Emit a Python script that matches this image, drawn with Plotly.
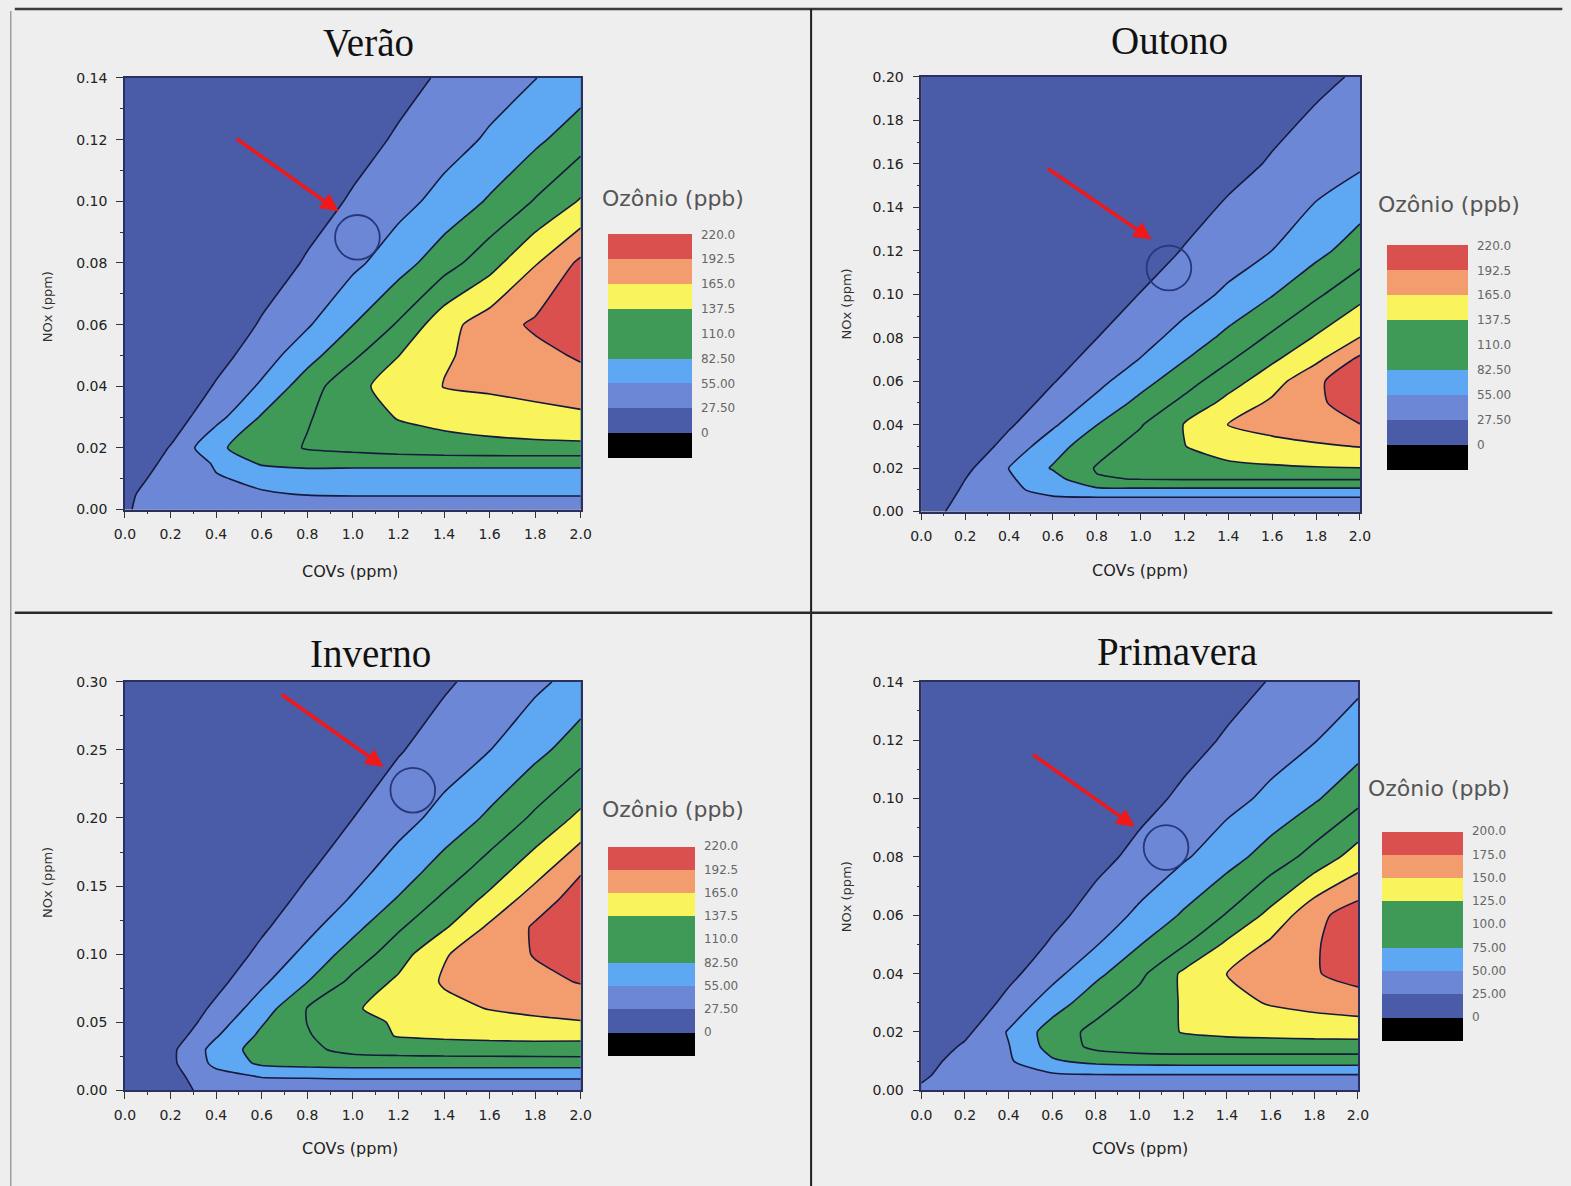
import plotly.graph_objects as go

W, H = 1571, 1186
BG = '#eeeeee'

# ---------------- data ----------------
cov_ppm = [0.0, 0.2, 0.4, 0.6, 0.8, 1.0, 1.2, 1.4, 1.6, 1.8, 2.0]

verao_nox = [0.0, 0.005, 0.01, 0.015, 0.02, 0.03, 0.04, 0.05, 0.06, 0.08, 0.10, 0.12, 0.14]
verao_o3 = [
    [26.5, 33, 38, 40, 40, 40, 40, 40, 40, 40, 40],
    [25.4, 34, 45, 53, 56, 57, 57, 57, 57, 57, 57],
    [19.5, 36, 53, 60, 63, 65, 65, 65, 65, 65, 65],
    [11, 34, 58, 86, 92, 90, 90, 90, 90, 90, 90],
    [3, 29, 78, 96, 112, 118, 124, 128, 130, 131, 131],
    [3, 13, 46, 85, 108, 124, 139, 145, 150, 155, 160],
    [3, 3, 30, 59, 97, 130, 149, 166, 170, 175, 180],
    [3, 3, 17.6, 42, 72, 105, 137, 162, 174, 184, 196],
    [3, 3, 8, 30.2, 52, 82, 113, 155, 179, 197, 212],
    [3, 3, 3, 12.2, 30.4, 48.6, 71, 98, 127, 163, 198],
    [3, 3, 3, 3, 15.2, 30.6, 46, 64, 85.5, 112, 140],
    [3, 3, 3, 3, 3.9, 17.3, 30.7, 44, 58.5, 76.7, 99],
    [3, 3, 3, 3, 3.5, 7.1, 19, 31, 43, 54.5, 67],
]

outono_nox = [0.0, 0.005, 0.01, 0.015, 0.02, 0.03, 0.04, 0.05, 0.06, 0.07, 0.08, 0.10, 0.12, 0.16, 0.20]
outono_o3 = [
    [22, 32, 38, 40, 40, 40, 40, 40, 40, 40, 40],
    [19, 31, 40, 44, 45, 45, 45, 45, 45, 45, 45],
    [12, 30, 46, 70, 76, 77, 77, 77, 77, 77, 77],
    [4.3, 27.3, 52, 72, 108, 111, 112, 112, 112, 112, 112],
    [3, 20.8, 55.5, 85, 112, 122, 128, 131, 134, 136, 137],
    [3, 6.7, 38, 71, 100, 120, 137, 150, 156, 161, 166],
    [3, 3, 23.9, 51, 82, 108, 139, 165.5, 175, 184, 192],
    [3, 3, 13, 37, 62, 90.5, 117, 146, 170, 187, 208],
    [3, 3, 4.5, 25.9, 47.3, 72.5, 99, 126, 153, 188, 210],
    [3, 3, 3, 17, 36.3, 56, 81.5, 107, 133.5, 159, 199],
    [3, 3, 3, 9.6, 27.2, 45, 65, 90, 115, 140, 165.5],
    [3, 3, 3, 3, 13.1, 28.2, 43, 60, 81, 105.6, 129],
    [3, 3, 3, 3, 3, 15.8, 28.9, 42, 55.2, 74.5, 96.7],
    [3, 3, 3, 3, 3, 3, 8.9, 19.4, 29.9, 40.3, 50.8],
    [3, 3, 3, 3, 3, 3, 3, 4.7, 13.3, 21.9, 30.5],
]

inverno_nox = [0.0, 0.01, 0.02, 0.03, 0.04, 0.05, 0.06, 0.08, 0.10, 0.12, 0.14, 0.16, 0.20, 0.25, 0.30]
inverno_o3 = [
    [11, 22, 33, 38, 40, 40, 40, 40, 40, 40, 40],
    [5, 19, 45, 56, 57, 58, 58, 58, 58, 58, 58],
    [3, 21.8, 62, 88, 93, 95, 95, 95, 95, 95, 95],
    [3, 21.3, 65, 95, 104, 118, 122, 124, 125, 126, 127],
    [3, 12.6, 53, 88, 108, 125, 139, 142, 144, 145, 144],
    [3, 5.4, 42.5, 80, 110.5, 130.6, 140, 148, 154, 159, 163],
    [3, 3, 33.6, 68.7, 111.2, 135, 146.5, 157, 166, 172, 178],
    [3, 3, 19, 49.4, 81.7, 116.3, 142.4, 168, 176, 186, 194],
    [3, 3, 7.7, 34.6, 62.5, 94.7, 125.1, 163, 178.6, 194, 212],
    [3, 3, 3, 22.9, 47.1, 74.2, 106.2, 133.9, 169.3, 196, 214],
    [3, 3, 3, 13.3, 35.3, 57.8, 84.9, 115.7, 144.6, 179.2, 205],
    [3, 3, 3, 5.3, 25.5, 45.7, 68.5, 95.9, 124.6, 155.7, 191],
    [3, 3, 3, 3, 10, 27.3, 44.6, 64, 87.4, 115.2, 144],
    [3, 3, 3, 3, 3, 10.8, 25.4, 40, 54.5, 74.4, 97.4],
    [3, 3, 3, 3, 3, 3, 11.2, 23.9, 36.6, 49.3, 64.8],
]

primavera_nox = [0.0, 0.005, 0.01, 0.015, 0.02, 0.03, 0.04, 0.05, 0.06, 0.08, 0.10, 0.12, 0.14]
primavera_o3 = [
    [27, 30, 33, 35, 35, 35, 35, 35, 35, 35, 35],
    [23, 32, 40, 45, 47, 47, 47, 47, 47, 47, 47],
    [17.7, 32.7, 47, 72, 82, 85, 86, 86, 86, 86, 86],
    [7.8, 28.6, 49, 85, 106, 113, 115, 115, 115, 115, 115],
    [3, 19.4, 52, 87, 107, 115, 126, 130, 132, 134, 135],
    [3, 4.7, 32.7, 62.5, 90, 110, 127, 142, 152, 158, 163],
    [3, 3, 18.2, 42, 69, 94, 129.4, 150.5, 160, 173, 185],
    [3, 3, 7.6, 28.2, 48.5, 74, 97.7, 129.5, 154.6, 172, 192],
    [3, 3, 3, 17.6, 35.8, 55, 78, 101.8, 131.8, 167.7, 188],
    [3, 3, 3, 3, 17.3, 32, 46.8, 64.9, 85.7, 108.9, 135.8],
    [3, 3, 3, 3, 4.6, 17, 29.4, 41.8, 55.6, 71.9, 92.9],
    [3, 3, 3, 3, 3, 6.1, 16.8, 27.5, 38.2, 48.9, 62.9],
    [3, 3, 3, 3, 3, 3, 7.3, 16.7, 26.1, 35.5, 44.8],
]

legend_a = ['0', '27.50', '55.00', '82.50', '110.0', '137.5', '165.0', '192.5', '220.0']
legend_b = ['0', '25.00', '50.00', '75.00', '100.0', '125.0', '150.0', '175.0', '200.0']

# marked point (circle) and arrow tail -> tip, in data units
verao_point = (1.02, 0.0883)
verao_arrow = (0.4835, 0.1206, 0.9376, 0.0968)
outono_point = (1.129, 0.1121)
outono_arrow = (0.571, 0.1582, 1.050, 0.1252)
inverno_point = (1.263, 0.2204)
inverno_arrow = (0.681, 0.2914, 1.135, 0.2375)
primavera_point = (1.121, 0.0832)
primavera_arrow = (0.505, 0.1154, 0.978, 0.0903)

# ---------------- styling ----------------
band_colors = ['#000000', '#4a5ba7', '#6d87d7', '#5ea7f3', '#3f9a57', '#3f9a57',
               '#f9f45c', '#f39d6f', '#d9504f', BG]
scale = [[k / 9, c] for k, c in enumerate(band_colors)]
SMOOTH = 0.6

# mapping from wanted on-screen pixel to page pixel (compensates the capture framing)
SX, OX = 0.9844, 11.2
SY, OY = 0.9852, 7.1
K = 1.0 / SX

def fx(p):
    return ((p - OX) / SX) / W

def fy(p):
    return 1 - ((p - OY) / SY) / H

panels = [
    dict(title='Verão', nox=verao_nox, o3=verao_o3, ymax=0.14, ydt=0.02, step=27.5,
         legend=legend_a, box=(125, 580, 77, 508), cb=(607, 233, 220, 83),
         cbt=(672, 197), ttl=(368, 42), xlab=(350, 570), ylab=(47, 305),
         point=verao_point, arrow=verao_arrow),
    dict(title='Outono', nox=outono_nox, o3=outono_o3, ymax=0.20, ydt=0.02, step=27.5,
         legend=legend_a, box=(920, 1358, 76, 510), cb=(1385, 244, 221, 80),
         cbt=(1447, 203), ttl=(1168, 40), xlab=(1138, 569), ylab=(845, 303),
         point=outono_point, arrow=outono_arrow),
    dict(title='Inverno', nox=inverno_nox, o3=inverno_o3, ymax=0.30, ydt=0.05, step=27.5,
         legend=legend_a, box=(125, 580, 680, 1088), cb=(607, 844, 206, 86),
         cbt=(672, 808), ttl=(370, 652), xlab=(350, 1146), ylab=(47, 880),
         point=inverno_point, arrow=inverno_arrow),
    dict(title='Primavera', nox=primavera_nox, o3=primavera_o3, ymax=0.14, ydt=0.02, step=25,
         legend=legend_b, box=(920, 1356, 680, 1088), cb=(1380, 829, 206, 80),
         cbt=(1437, 787), ttl=(1175, 650), xlab=(1138, 1146), ylab=(845, 895),
         point=primavera_point, arrow=primavera_arrow),
]

tickfont = dict(family='DejaVu Sans', size=14, color='#222')
fig = go.Figure()
annotations = []
layout = dict(width=W, height=H, margin=dict(l=0, r=0, t=0, b=0),
              paper_bgcolor=BG, plot_bgcolor=BG, showlegend=False)

for i, p in enumerate(panels, start=1):
    sx = '' if i == 1 else str(i)
    xref, yref = 'x' + sx, 'y' + sx
    x0, x1, y0, y1 = p['box']
    step = p['step']
    levels = [step * k for k in range(9)]
    cbx, red_top, vis, thick = p['cb']

    fig.add_trace(go.Contour(
        x=cov_ppm, y=p['nox'], z=p['o3'], xaxis=xref, yaxis=yref,
        contours=dict(start=0, end=8 * step, size=step, coloring='fill', showlines=False),
        colorscale=scale, zmin=-step, zmax=8.5 * step,
        line=dict(width=0, smoothing=SMOOTH), hoverinfo='skip',
        colorbar=dict(x=fx(cbx), xanchor='left', y=fy(red_top - vis / 18.0), yanchor='top',
                      len=vis * 9.5 / 9.0 * K, lenmode='pixels', thickness=thick * K,
                      thicknessmode='pixels', xpad=0, ypad=0, outlinewidth=0,
                      tickmode='array', tickvals=levels, ticktext=p['legend'],
                      ticks='outside', ticklen=7, tickcolor='rgba(0,0,0,0)',
                      tickfont=dict(family='DejaVu Sans', size=12, color='#666'),
                      bgcolor='rgba(0,0,0,0)', borderwidth=0),
    ))
    fig.add_trace(go.Contour(
        x=cov_ppm, y=p['nox'], z=p['o3'], xaxis=xref, yaxis=yref,
        contours=dict(start=0, end=8 * step, size=step, coloring='none', showlines=True),
        line=dict(color='#161a3c', width=1.6, smoothing=SMOOTH),
        showscale=False, hoverinfo='skip',
    ))
    fig.add_trace(go.Scatter(
        x=[p['point'][0]], y=[p['point'][1]], xaxis=xref, yaxis=yref, mode='markers',
        marker=dict(symbol='circle-open', size=44 * K, color='#27377c',
                    line=dict(color='#27377c', width=1.8)),
        hoverinfo='skip',
    ))

    axis_common = dict(showgrid=False, zeroline=False, showline=True, linecolor='#2b3060',
                       linewidth=1.5, mirror=True, ticks='outside', ticklen=7,
                       tickcolor='#333', tickfont=tickfont)
    layout['xaxis' + sx] = dict(axis_common, domain=[fx(x0), fx(x1)], anchor=yref,
                                range=[0, 2.0], tick0=0, dtick=0.2, tickformat='.1f',
                                ticklabelstandoff=4,
                                minor=dict(ticks='outside', ticklen=3, dtick=0.1, tickcolor='#333'))
    layout['yaxis' + sx] = dict(axis_common, domain=[fy(y1), fy(y0)], anchor=xref,
                                range=[0, p['ymax']], tick0=0, dtick=p['ydt'], tickformat='.2f',
                                ticklabelstandoff=6,
                                minor=dict(ticks='outside', ticklen=3, dtick=p['ydt'] / 2,
                                           tickcolor='#333'))

    ax_, ay_, tx_, ty_ = p['arrow']
    annotations.append(dict(x=tx_, y=ty_, ax=ax_, ay=ay_, xref=xref, yref=yref,
                            axref=xref, ayref=yref, text='', showarrow=True, arrowhead=2,
                            arrowsize=1.0, arrowwidth=3.6, arrowcolor='#f01818', standoff=0))
    annotations.append(dict(x=fx(p['ttl'][0]), y=fy(p['ttl'][1]), xref='paper', yref='paper',
                            text=p['title'], showarrow=False, xanchor='center', yanchor='middle',
                            font=dict(family='Liberation Serif', size=39, color='#111')))
    annotations.append(dict(x=fx(p['cbt'][0]), y=fy(p['cbt'][1]), xref='paper', yref='paper',
                            text='Ozônio (ppb)', showarrow=False, xanchor='center',
                            yanchor='middle',
                            font=dict(family='DejaVu Sans', size=22, color='#555')))
    annotations.append(dict(x=fx(p['xlab'][0]), y=fy(p['xlab'][1]), xref='paper', yref='paper',
                            text='COVs (ppm)', showarrow=False, xanchor='center',
                            yanchor='middle',
                            font=dict(family='DejaVu Sans', size=16, color='#222')))
    annotations.append(dict(x=fx(p['ylab'][0]), y=fy(p['ylab'][1]), xref='paper', yref='paper',
                            text='NOx (ppm)', showarrow=False, textangle=-90,
                            xanchor='center', yanchor='middle',
                            font=dict(family='DejaVu Sans', size=13, color='#333')))

shapes = [
    dict(type='line', xref='paper', yref='paper', x0=fx(15), x1=fx(1560), y0=fy(8), y1=fy(8),
         line=dict(color='#3a3a3a', width=2.5)),
    dict(type='line', xref='paper', yref='paper', x0=fx(11), x1=fx(11), y0=fy(10), y1=fy(1186),
         line=dict(color='#8a8a8a', width=1.2)),
    dict(type='line', xref='paper', yref='paper', x0=fx(810), x1=fx(810), y0=fy(8), y1=fy(1186),
         line=dict(color='#1e1e1e', width=2)),
    dict(type='line', xref='paper', yref='paper', x0=fx(15), x1=fx(1550), y0=fy(611), y1=fy(611),
         line=dict(color='#2a2a2a', width=2.5)),
]

layout['annotations'] = annotations
layout['shapes'] = shapes
fig.update_layout(**layout)
fig.write_html('out.html', config={'displayModeBar': False},
               post_script="document.body.style.margin='0';document.body.style.overflow='hidden';")
